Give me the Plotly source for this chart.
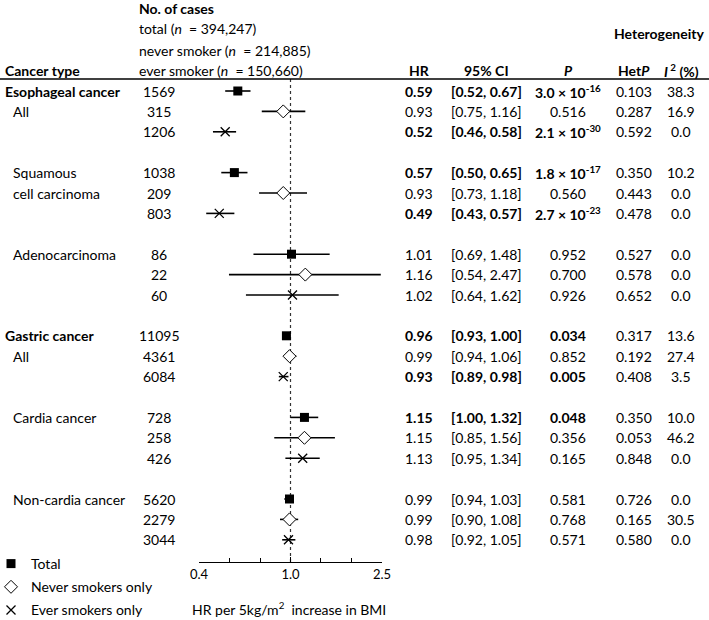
import math
import plotly.graph_objects as go

# ---------------- data ----------------
type_labels = [
    ["<b>Esophageal cancer</b>", "All"],
    ["Squamous", "cell carcinoma"],
    ["Adenocarcinoma"],
    ["<b>Gastric cancer</b>", "All"],
    ["Cardia cancer"],
    ["Non-cardia cancer"],
]

cases_total = [1569, 1038, 86, 11095, 728, 5620]
cases_never = [315, 209, 22, 4361, 258, 2279]
cases_ever = [1206, 803, 60, 6084, 426, 3044]

hr_total = [0.59, 0.57, 1.01, 0.96, 1.15, 0.99]
lo_total = [0.52, 0.50, 0.69, 0.93, 1.00, 0.94]
hi_total = [0.67, 0.65, 1.48, 1.00, 1.32, 1.03]

hr_never = [0.93, 0.93, 1.16, 0.99, 1.15, 0.99]
lo_never = [0.75, 0.73, 0.54, 0.94, 0.85, 0.90]
hi_never = [1.16, 1.18, 2.47, 1.06, 1.56, 1.08]

hr_ever = [0.52, 0.49, 1.02, 0.93, 1.13, 0.98]
lo_ever = [0.46, 0.43, 0.64, 0.89, 0.95, 0.92]
hi_ever = [0.58, 0.57, 1.62, 0.98, 1.34, 1.05]

p_total = ["3.0 × 10<sup>-16</sup>", "1.8 × 10<sup>-17</sup>", "0.952", "0.034", "0.048", "0.581"]
p_never = ["0.516", "0.560", "0.700", "0.852", "0.356", "0.768"]
p_ever = ["2.1 × 10<sup>-30</sup>", "2.7 × 10<sup>-23</sup>", "0.926", "0.005", "0.165", "0.571"]

het_total = ["0.103", "0.350", "0.527", "0.317", "0.350", "0.726"]
het_never = ["0.287", "0.443", "0.578", "0.192", "0.053", "0.165"]
het_ever = ["0.592", "0.478", "0.652", "0.408", "0.848", "0.580"]

i2_total = ["38.3", "10.2", "0.0", "13.6", "10.0", "0.0"]
i2_never = ["16.9", "0.0", "0.0", "27.4", "46.2", "30.5"]
i2_ever = ["0.0", "0.0", "0.0", "3.5", "0.0", "0.0"]

bold_total = [True, True, False, True, True, False]
bold_never = [False, False, False, False, False, False]
bold_ever = [True, True, False, True, False, False]

tick_vals = [0.4, 1.0, 2.5]
tick_text = ["0.4", "1.0", "2.5"]
minor_tick_vals = [0.543, 0.737, 1.357, 1.842]

series_names = ["Total", "Never smokers only", "Ever smokers only"]

# ---------------- layout helpers ----------------
W, H = 709, 620
FONT = "Lato"
FS = 14
ROW0_PX, ROW_STEP = 91.0, 20.4
AXIS_PX = 562.0
y_top = (0 - ROW0_PX) / ROW_STEP
y_bot = (AXIS_PX - ROW0_PX) / ROW_STEP

X_CASES, X_HR, X_CI, X_P, X_HET, X_I2 = 159, 419, 486, 568, 634, 681


def px(x):
    return x / W


def py(y):
    return 1 - y / H


n_groups = len(cases_total)
rows_total = [4 * g for g in range(n_groups)]
rows_never = [4 * g + 1 for g in range(n_groups)]
rows_ever = [4 * g + 2 for g in range(n_groups)]

fig = go.Figure()

marker_styles = [
    dict(symbol="square", size=9, color="black", line=dict(color="black", width=0)),
    dict(symbol="diamond", size=10, color="white", line=dict(color="black", width=1)),
    dict(symbol="x-thin-open", size=9, color="black", line=dict(color="black", width=1.3)),
]

series = [
    (hr_total, lo_total, hi_total, rows_total),
    (hr_never, lo_never, hi_never, rows_never),
    (hr_ever, lo_ever, hi_ever, rows_ever),
]

for k, (hr, lo, hi, rows) in enumerate(series):
    fig.add_trace(go.Scatter(
        x=hr, y=rows, mode="markers", name=series_names[k],
        legendgroup=series_names[k],
        marker=marker_styles[k],
        error_x=dict(type="data", symmetric=False,
                     array=[h - r for h, r in zip(hi, hr)],
                     arrayminus=[r - l for r, l in zip(hr, lo)],
                     color="black", thickness=1.6, width=0),
        hoverinfo="skip",
    ))

ann = []


def add_text(x_px, y, text, anchor="center", yref="y", size=FS, color="black"):
    ann.append(dict(x=px(x_px), xref="paper", y=y, yref=yref, text=text,
                    showarrow=False, xanchor=anchor, yanchor="middle",
                    font=dict(family=FONT, size=size, color=color)))


def b(t, flag):
    return f"<b>{t}</b>" if flag else t


# header
add_text(137, py(8), "<b>No. of cases</b>", "left", "paper")
add_text(137, py(29), "total (<i>n</i>  = 394,247)", "left", "paper")
add_text(137, py(50), "never smoker (<i>n</i>  = 214,885)", "left", "paper")
add_text(137, py(70), "ever smoker (<i>n</i>  = 150,660)", "left", "paper")
add_text(3, py(70), "<b>Cancer type</b>", "left", "paper")
add_text(659, py(33), "<b>Heterogeneity</b>", "center", "paper")
add_text(X_HR, py(70), "<b>HR</b>", "center", "paper")
add_text(X_CI, py(70), "<b>95% CI</b>", "center", "paper")
add_text(X_P, py(70), "<b><i>P</i></b>", "center", "paper")
add_text(X_HET, py(70), "<b>Het<i>P</i></b>", "center", "paper")
add_text(X_I2, py(70), "<b><i>I</i><sup> 2</sup> (%)</b>", "center", "paper")

# cancer type labels
for g, lines in enumerate(type_labels):
    for j, t in enumerate(lines):
        add_text(3 if t.startswith("<b>") else 11, 4 * g + j, t, "left")

# table columns
table = [
    (rows_total, cases_total, hr_total, lo_total, hi_total, p_total, het_total, i2_total, bold_total),
    (rows_never, cases_never, hr_never, lo_never, hi_never, p_never, het_never, i2_never, bold_never),
    (rows_ever, cases_ever, hr_ever, lo_ever, hi_ever, p_ever, het_ever, i2_ever, bold_ever),
]
for rows, cases, hr, lo, hi, pv, het, i2, bold in table:
    for i in range(n_groups):
        r = rows[i]
        add_text(X_CASES, r, str(cases[i]))
        add_text(X_HR, r, b(f"{hr[i]:.2f}", bold[i]))
        add_text(X_CI, r, b(f"[{lo[i]:.2f}, {hi[i]:.2f}]", bold[i]))
        add_text(X_P, r, b(pv[i], bold[i]))
        add_text(X_HET, r, het[i])
        add_text(X_I2, r, i2[i])

# axis title
add_text(289, py(608), "HR per 5kg/m<sup>2</sup>  increase in BMI", "center", "paper")

shapes = [
    dict(type="line", xref="paper", yref="paper", x0=0, x1=1, y0=py(79), y1=py(79),
         line=dict(color="black", width=1.5)),
    dict(type="line", xref="x", yref="y", x0=1.0, x1=1.0, y0=(79 - ROW0_PX) / ROW_STEP, y1=y_bot,
         line=dict(color="#333333", width=1.2, dash="dot"), layer="below"),
]

fig.update_layout(
    width=W, height=H,
    margin=dict(l=0, r=0, t=0, b=0, autoexpand=False),
    paper_bgcolor="white", plot_bgcolor="white",
    font=dict(family=FONT, size=FS, color="black"),
    annotations=ann, shapes=shapes,
    showlegend=True,
    legend=dict(x=px(-9), y=py(548), xanchor="left", yanchor="top",
                font=dict(family=FONT, size=FS), bgcolor="rgba(0,0,0,0)",
                tracegroupgap=2, traceorder="grouped"),
    xaxis=dict(type="log", range=[math.log10(0.4), math.log10(2.5)],
               domain=[px(199), px(382)], anchor="y",
               showline=True, linecolor="black", linewidth=1.2,
               showgrid=False, zeroline=False,
               tickvals=tick_vals, ticktext=tick_text,
               ticks="inside", ticklen=5, tickwidth=1.2, tickcolor="black",
               tickfont=dict(family=FONT, size=13),
               minor=dict(tickvals=minor_tick_vals, ticks="inside", ticklen=4,
                          tickwidth=1, tickcolor="black", showgrid=False)),
    yaxis=dict(range=[y_bot, y_top], domain=[(H - AXIS_PX) / H, 1],
               visible=False, showgrid=False, zeroline=False),
)

fig.write_html(
    "out.html",
    config={"displayModeBar": False},
    post_script="document.body.style.margin='0';document.body.style.overflow='hidden';",
)
